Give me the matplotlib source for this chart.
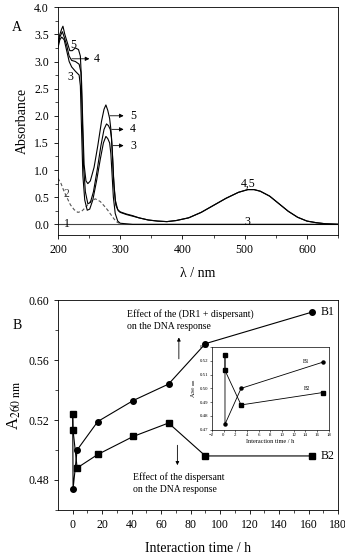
import matplotlib
matplotlib.use('Agg')
from matplotlib import pyplot as plt

plt.rcParams['font.family'] = ['Liberation Serif', 'DejaVu Serif']
plt.rcParams['mathtext.fontset'] = 'stix'

# --- panel A: absorption spectra ---
wl1 = [200, 650]
abs1 = [0.0, 0.0]

wl2 = [200, 205, 210, 215, 220, 226, 232, 238, 245, 252, 260, 268, 275, 280, 285, 290, 295, 300]
abs2 = [0.85, 0.75, 0.6, 0.48, 0.36, 0.27, 0.22, 0.24, 0.32, 0.42, 0.47, 0.42, 0.33, 0.26, 0.18, 0.1, 0.04, 0.01]

wl3 = [200, 203, 206, 210, 214, 218, 222, 228, 234, 236, 238, 240, 243, 247, 251, 256, 262, 268, 273, 277,
       280, 283, 285, 287, 289, 292, 296, 300, 320, 650]
abs3 = [3.25, 3.4, 3.45, 3.4, 3.2, 3.0, 2.9, 2.82, 2.75, 2.55, 1.7, 0.9, 0.45, 0.26, 0.28, 0.45, 0.8, 1.2, 1.5, 1.62,
        1.58, 1.5, 1.3, 0.9, 0.5, 0.2, 0.06, 0.02, 0.0, 0.0]

wl4 = [200, 203, 207, 210, 214, 218, 222, 228, 234, 237, 239, 241, 244, 248, 252, 257, 263, 269, 274, 278,
       281, 284, 286, 288, 290, 293, 297, 300, 310, 320, 330, 345, 360, 375, 390, 410, 430, 450, 470, 490,
       505, 515, 525, 540, 555, 570, 585, 600, 615, 630, 650]
abs4 = [3.3, 3.45, 3.55, 3.45, 3.3, 3.1, 3.02, 3.0, 2.95, 2.8, 2.0, 1.1, 0.6, 0.38, 0.4, 0.6, 1.0, 1.45, 1.75, 1.85,
        1.82, 1.75, 1.6, 1.2, 0.7, 0.35, 0.25, 0.22, 0.18, 0.15, 0.12, 0.08, 0.06, 0.05, 0.07, 0.12, 0.22, 0.35, 0.48, 0.59,
        0.64, 0.64, 0.61, 0.52, 0.38, 0.24, 0.13, 0.06, 0.03, 0.01, 0.0]

wl5 = [200, 203, 206, 208, 211, 215, 219, 223, 228, 233, 236, 238, 240, 242, 245, 248, 252, 258, 264, 270,
       274, 277, 280, 283, 285, 287, 289, 292, 296, 300, 310, 320, 330, 345, 360, 375, 390, 410, 430, 450,
       470, 490, 505, 515, 525, 540, 555, 570, 585, 600, 615, 630, 650]
abs5 = [3.35, 3.5, 3.6, 3.65, 3.5, 3.35, 3.2, 3.2, 3.25, 3.22, 3.1, 2.6, 1.8, 1.1, 0.8, 0.75, 0.8, 1.05, 1.45, 1.9,
        2.12, 2.2, 2.1, 1.95, 1.75, 1.4, 0.9, 0.45, 0.27, 0.23, 0.19, 0.16, 0.12, 0.08, 0.06, 0.05, 0.07, 0.12, 0.22, 0.35,
        0.48, 0.59, 0.64, 0.64, 0.61, 0.52, 0.38, 0.24, 0.13, 0.06, 0.03, 0.01, 0.0]

# --- panel B: A260 vs interaction time ---
t_b1 = [0, 0.25, 3, 17, 41, 65, 90, 162]
a_b1 = [0.524, 0.474, 0.500, 0.519, 0.533, 0.544, 0.571, 0.592]
t_b2 = [0, 0.25, 3, 17, 41, 65, 90, 162]
a_b2 = [0.524, 0.513, 0.488, 0.497, 0.509, 0.518, 0.496, 0.496]

t_in_b1 = [0.25, 0.25, 3, 17]
a_in_b1 = [0.524, 0.474, 0.500, 0.519]
t_in_b2 = [0.25, 0.25, 3, 17]
a_in_b2 = [0.524, 0.513, 0.488, 0.497]

fig = plt.figure(figsize=(3.45, 5.56), dpi=100)

axA = fig.add_axes([0.168, 0.577, 0.812, 0.410])
axA.plot(wl1, abs1, color='#444444', lw=0.8)
axA.plot(wl2, abs2, color='#555555', lw=0.8, ls=(0, (3, 2)))
axA.plot(wl3, abs3, color='black', lw=0.8)
axA.plot(wl4, abs4, color='black', lw=0.8)
axA.plot(wl5, abs5, color='black', lw=0.8)
axA.set_xlim(200, 650)
axA.set_ylim(-0.2, 4.0)
axA.set_xticks([200, 300, 400, 500, 600])
axA.set_xticks([250, 350, 450, 550, 650], minor=True)
axA.set_yticks([0.0, 0.5, 1.0, 1.5, 2.0, 2.5, 3.0, 3.5, 4.0])
axA.set_yticks([0.25, 0.75, 1.25, 1.75, 2.25, 2.75, 3.25, 3.75], minor=True)
axA.set_yticklabels(['0.0', '0.5', '1.0', '1.5', '2.0', '2.5', '3.0', '3.5', '4.0'])
axA.tick_params(labelsize=8.5, direction='out', length=3, width=0.6)
axA.tick_params(which='minor', length=2, width=0.5)
axA.set_xlabel('λ / nm', fontsize=10, labelpad=8)
axA.set_ylabel('Absorbance', fontsize=10)
for s in axA.spines.values():
    s.set_linewidth(0.6)

ann = dict(arrowstyle='-|>', color='black', lw=0.6, mutation_scale=6)
axA.annotate('', xy=(255, 3.05), xytext=(218, 3.05), arrowprops=ann)
axA.text(258, 3.05, '4', fontsize=8.5, va='center')
axA.text(220, 3.3, '5', fontsize=8.5, va='center')
axA.text(215, 2.72, '3', fontsize=8.5, va='center')
axA.annotate('', xy=(310, 2.0), xytext=(279, 2.0), arrowprops=ann)
axA.text(316, 2.0, '5', fontsize=8.5, va='center')
axA.annotate('', xy=(310, 1.75), xytext=(282, 1.75), arrowprops=ann)
axA.text(316, 1.75, '4', fontsize=8.5, va='center')
axA.annotate('', xy=(310, 1.45), xytext=(284, 1.45), arrowprops=ann)
axA.text(316, 1.45, '3', fontsize=8.5, va='center')
axA.text(505, 0.74, '4,5', fontsize=8.5, ha='center', va='center')
axA.text(505, 0.05, '3', fontsize=8.5, ha='center', va='center')
axA.text(213, 0.55, '2', fontsize=8.5, ha='center', va='center', color='#444444')
axA.text(215, 0.0, '1', fontsize=8.5, ha='center', va='center')
fig.text(0.035, 0.945, 'A', fontsize=10)

axB = fig.add_axes([0.168, 0.083, 0.812, 0.377])
axB.plot(t_b1, a_b1, '-o', color='black', lw=0.8, ms=4)
axB.plot(t_b2, a_b2, '-s', color='black', lw=0.8, ms=4)
axB.set_xlim(-10, 180)
axB.set_ylim(0.46, 0.60)
axB.set_xticks(range(0, 181, 20))
axB.set_xticks(range(10, 180, 20), minor=True)
axB.set_yticks([0.48, 0.52, 0.56, 0.60])
axB.set_yticks([0.46, 0.50, 0.54, 0.58], minor=True)
axB.tick_params(labelsize=8.5, direction='out', length=3, width=0.6)
axB.tick_params(which='minor', length=2, width=0.5)
axB.set_xlabel('Interaction time / h', fontsize=10, labelpad=8)
axB.set_ylabel('A$_{260\\ \\mathrm{nm}}$', fontsize=12)
for s in axB.spines.values():
    s.set_linewidth(0.6)
axB.text(168, 0.592, 'B1', fontsize=8.5, va='center')
axB.text(168, 0.496, 'B2', fontsize=8.5, va='center')
axB.text(37, 0.587, 'Effect of the (DR1 + dispersant)\non the DNA response',
         fontsize=7, va='center', linespacing=1.4)
axB.text(41, 0.478, 'Effect of the dispersant\non the DNA response',
         fontsize=7, va='center', linespacing=1.4)
arr = dict(arrowstyle='-|>', color='black', lw=0.6, mutation_scale=5)
axB.annotate('', xy=(72, 0.577), xytext=(72, 0.559), arrowprops=arr)
axB.annotate('', xy=(71, 0.488), xytext=(71, 0.505), arrowprops=arr)
fig.text(0.035, 0.408, 'B', fontsize=10)

axI = fig.add_axes([0.614, 0.227, 0.339, 0.149])
axI.plot(t_in_b1, a_in_b1, '-o', color='black', lw=0.6, ms=2.2)
axI.plot(t_in_b2, a_in_b2, '-s', color='black', lw=0.6, ms=2.2)
axI.set_xlim(-2, 18)
axI.set_ylim(0.47, 0.53)
axI.set_xticks(range(-2, 19, 2))
axI.set_yticks([0.47, 0.48, 0.49, 0.50, 0.51, 0.52, 0.53])
axI.tick_params(labelsize=3.5, direction='out', length=1.5, width=0.4, pad=1)
axI.set_xlabel('Interaction time / h', fontsize=4.5, labelpad=1)
axI.set_ylabel('A$_{260\\ \\mathrm{nm}}$', fontsize=4.5, labelpad=1)
for s in axI.spines.values():
    s.set_linewidth(0.5)
axI.text(13.6, 0.5185, 'B1', fontsize=4)
axI.text(13.8, 0.4985, 'B2', fontsize=4)

fig.savefig('out.png', dpi=100)
